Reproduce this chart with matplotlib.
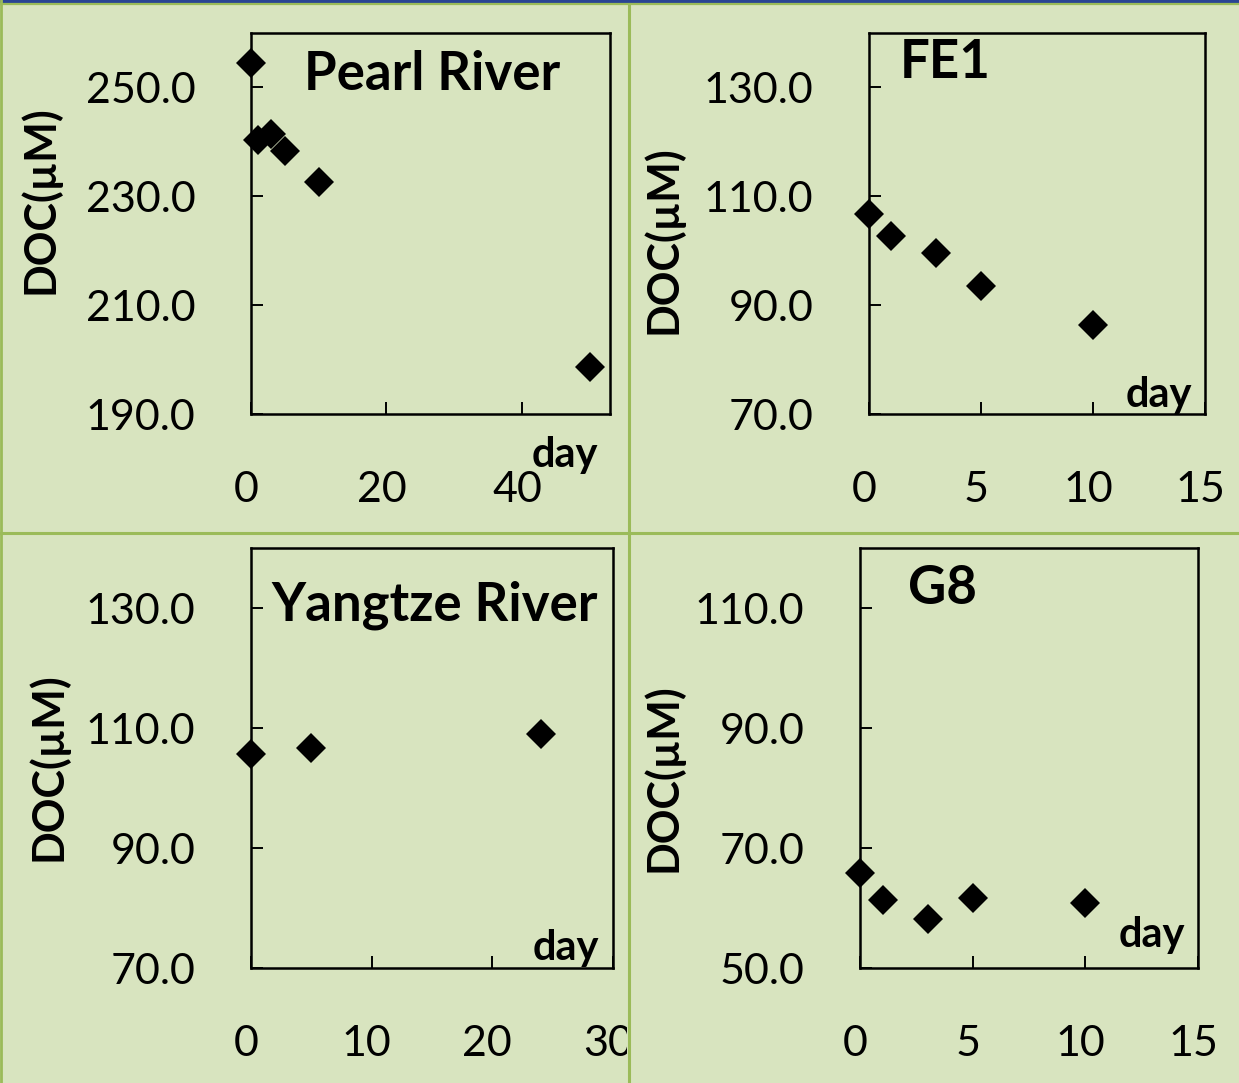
import matplotlib
matplotlib.use("Agg")
import matplotlib.pyplot as plt
from matplotlib.transforms import Bbox, ScaledTranslation
from matplotlib.patches import Rectangle
from matplotlib.lines import Line2D

plt.rcParams['font.family'] = ['Lato', 'DejaVu Sans']

# data (day, DOC in uM)
pearl_day = [0, 1, 3, 5, 10, 50]
pearl_doc = [254.4, 240.3, 241.4, 238.3, 232.6, 198.7]

fe1_day = [0, 1, 3, 5, 10]
fe1_doc = [106.7, 102.7, 99.6, 93.6, 86.4]

yangtze_day = [0, 5, 24]
yangtze_doc = [105.7, 106.7, 109.0]

g8_day = [0, 1, 3, 5, 10]
g8_doc = [65.8, 61.3, 58.2, 61.7, 60.8]

titles = ["Pearl River", "FE1", "Yangtze River", "G8"]

W, H = 1239, 1083
BG = '#d8e4bf'
GREEN = '#9bbb59'

fig = plt.figure(figsize=(W / 100, H / 100), dpi=100)
fig.patch.set_facecolor(BG)


def px_axes(left, top, right, bottom):
    return fig.add_axes([left / W, 1 - bottom / H, (right - left) / W, (bottom - top) / H])


def fig_text(x, y, s, **kw):
    return fig.text(x / W, 1 - y / H, s, **kw)


panels = [
    # data, box (l, t, r, b), xlim, xticks, ylim, yticks, title pos, day pos, ylabel pos
    (pearl_day, pearl_doc, (251, 33, 610, 414), (0, 53), [0, 20, 40], (190, 260), [190, 210, 230, 250],
     (304, 75), (565, 455), (40, 200)),
    (fe1_day, fe1_doc, (869, 33, 1205, 414), (0, 15), [0, 5, 10, 15], (70, 140), [70, 90, 110, 130],
     (900, 63), (1159, 395), (663, 240)),
    (yangtze_day, yangtze_doc, (251, 548, 613, 968), (0, 30), [0, 10, 20, 30], (70, 140), [70, 90, 110, 130],
     (271, 605), (566, 948), (48, 767)),
    (g8_day, g8_doc, (860, 548, 1198, 968), (0, 15), [0, 5, 10, 15], (50, 120), [50, 70, 90, 110],
     (908, 588), (1152, 935), (663, 778)),
]

shift_left = ScaledTranslation(-5 / 100, 0, fig.dpi_scale_trans)

for i, (xs, ys, box, xlim, xt, ylim, yt, tpos, dpos, lpos) in enumerate(panels):
    ax = px_axes(*box)
    ax.set_facecolor(BG)
    ax.plot(xs, ys, 'D', color='black', ms=15, mew=0, clip_on=False, zorder=5)
    ax.set_xlim(*xlim)
    ax.set_ylim(*ylim)
    ax.set_xticks(xt)
    ax.set_yticks(yt)
    ax.set_yticklabels([f'{v:.1f}' for v in yt])
    ax.tick_params(direction='in', length=8.5, width=1.4, labelsize=31, colors='black')
    ax.tick_params(axis='x', pad=41)
    ax.tick_params(axis='y', pad=40)
    for sp in ax.spines.values():
        sp.set_linewidth(1.8)
    for lab in ax.get_xticklabels():
        lab.set_transform(lab.get_transform() + shift_left)
    if i == 2:
        clip = Bbox.from_extents(0, 0, 627, H)
        for lab in ax.get_xticklabels():
            lab.set_clip_box(clip)
            lab.set_clip_on(True)
    fig_text(tpos[0], tpos[1], titles[i], fontsize=38, fontweight='bold', ha='left', va='center')
    fig_text(dpos[0], dpos[1], 'day', fontsize=30, fontweight='bold', ha='center', va='center')
    fig_text(lpos[0], lpos[1], 'DOC(\u00b5M)', fontsize=31, fontweight='bold', ha='center', va='center',
             rotation=90)

# slide frame: blue band at top and green separators
fig.add_artist(Rectangle((0, 1 - 3 / H), 1, 3 / H, transform=fig.transFigure, color='#2a4494', lw=0))
fig.add_artist(Line2D([0, 1], [1 - 4 / H, 1 - 4 / H], transform=fig.transFigure, color=GREEN, lw=1.6))
fig.add_artist(Line2D([629 / W, 629 / W], [0, 1 - 4 / H], transform=fig.transFigure, color=GREEN, lw=2.2))
fig.add_artist(Line2D([0, 1], [1 - 533 / H, 1 - 533 / H], transform=fig.transFigure, color=GREEN, lw=2.2))
fig.add_artist(Line2D([1 / W, 1 / W], [0, 1], transform=fig.transFigure, color=GREEN, lw=2))

fig.savefig('out.png', dpi=100, facecolor=BG)
